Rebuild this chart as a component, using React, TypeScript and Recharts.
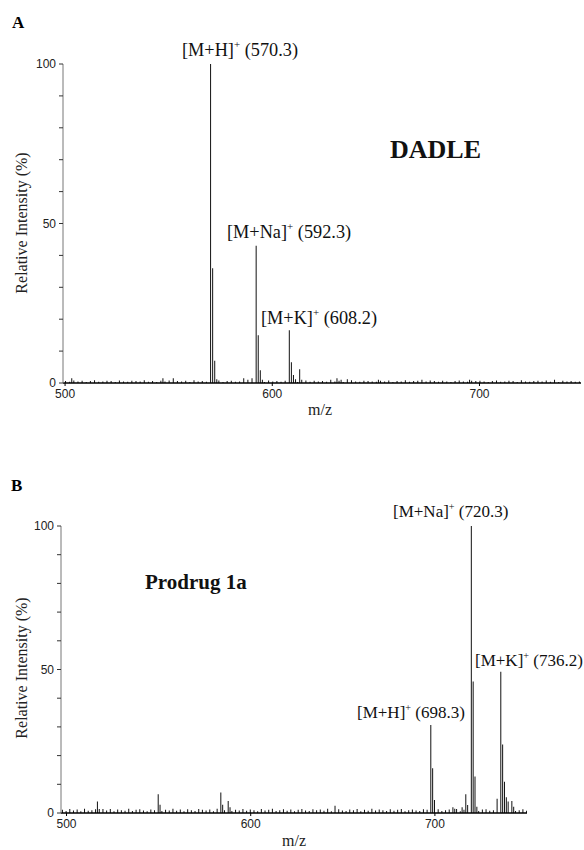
import React from "react";
import { BarChart, Bar, XAxis, YAxis } from "recharts";

// axes
const X_TICKS = [500, 600, 700];
const Y_TICKS = [0, 10, 20, 30, 40, 50, 60, 70, 80, 90, 100];
const Y_LABELED = [0, 50, 100];
const NOISE_STEP = 2;

// Panel A — DADLE peaks (m/z, relative intensity %)
const DADLE_MZ = [503, 547, 552, 570, 571, 572, 573, 586, 588, 590, 592, 593, 594, 595, 608, 609, 610, 611, 613, 614, 628, 631, 633, 636, 651, 672, 695, 736];
const DADLE_INT = [1.5, 1.5, 1.5, 100, 36, 7, 1.2, 1.5, 1, 1.5, 43, 15, 4, 1, 16.5, 6.5, 2.5, 1.2, 4.3, 1, 1, 1.5, 1, 1.2, 1, 1, 1, 1];
const DADLE_NOISE_START = 500;
const DADLE_NOISE = [
  0.6, 0.4, 0.8, 0.5, 0.7, 0.3, 0.6, 0.9, 0.4, 0.5, 0.7, 0.6, 0.3, 0.8, 0.5, 0.4, 0.7, 0.6, 0.5, 0.9, 0.4, 0.6, 0.3, 0.7, 0.5,
  0.8, 0.4, 0.6, 0.5, 0.7, 0.3, 0.9, 0.5, 0.6, 0.4, 0.7, 0.5, 0.8, 0.3, 0.6, 0.7, 0.4, 0.5, 0.9, 0.6, 0.4, 0.7, 0.5, 0.3, 0.8,
  0.5, 0.6, 0.4, 0.7, 0.9, 0.5, 0.3, 0.6, 0.8, 0.4, 0.7, 0.5, 0.6, 0.4, 0.8, 0.5, 0.7, 0.3, 0.6, 0.9, 0.5, 0.4, 0.7, 0.6, 0.5,
  0.4, 0.7, 0.5, 0.8, 0.3, 0.6, 0.5, 0.9, 0.4, 0.6, 0.7, 0.3, 0.5, 0.8, 0.6, 0.4, 0.7, 0.5, 0.3, 0.6, 0.8, 0.5, 0.4, 0.7, 0.6,
  0.7, 0.5, 0.3, 0.6, 0.8, 0.4, 0.5, 0.7, 0.6, 0.3, 0.9, 0.5, 0.4, 0.6, 0.7, 0.5, 0.8, 0.4, 0.6, 0.3, 0.7, 0.5, 0.6, 0.4, 0.5,
];

// Panel B — Prodrug 1a peaks
const PRODRUG_MZ = [517, 518, 520, 550, 551, 584, 585, 588, 589, 646, 698, 699, 700, 710, 711, 715, 717, 718, 720, 721, 722, 723, 734, 736, 737, 738, 739, 740, 742, 743];
const PRODRUG_INT = [4, 1.4, 1.4, 6.5, 2.9, 7.1, 2.9, 4.2, 2, 2.5, 30.7, 15.6, 4.5, 2, 1.5, 2, 6.5, 2.8, 100, 45.8, 12.7, 2.2, 5, 49.2, 23.9, 10.9, 5.5, 4, 4.2, 2.2];
const PRODRUG_NOISE_START = 498;
const PRODRUG_NOISE = [
  1.1, 0.7, 1.4, 0.9, 1.2, 0.6, 1.5, 0.8, 1.0, 1.3, 0.7, 1.1, 0.9, 1.4, 0.6, 1.2, 1.0, 0.8, 1.5, 0.7, 1.1, 1.3, 0.9, 0.6, 1.2,
  1.0, 1.4, 0.7, 1.1, 0.9, 1.5, 0.8, 1.2, 0.6, 1.3, 1.0, 0.7, 1.4, 1.1, 0.9, 1.2, 0.6, 1.5, 0.8, 1.0, 1.3, 0.7, 1.1, 0.9, 1.4,
  0.8, 1.2, 1.0, 0.6, 1.4, 0.9, 1.1, 1.5, 0.7, 1.0, 1.3, 0.8, 1.2, 0.6, 1.1, 1.4, 0.9, 0.7, 1.3, 1.0, 1.2, 0.8, 1.5, 0.6, 1.1,
  1.3, 0.9, 0.7, 1.2, 1.0, 1.4, 0.6, 1.1, 0.8, 1.5, 0.9, 1.2, 1.0, 0.7, 1.3, 0.8, 1.1, 1.4, 0.6, 1.0, 1.2, 0.9, 0.7, 1.3, 1.1,
  0.9, 1.1, 1.3, 0.7, 1.0, 1.2, 0.8, 1.4, 0.6, 1.1, 0.9, 1.5, 1.0, 0.7, 1.2, 1.3, 0.8, 1.0, 0.6, 1.4, 1.1, 0.9, 1.2, 0.7, 1.0,
  1.3, 0.8,
];

const SERIF = "'Liberation Serif', 'Times New Roman', serif";
const SANS = "'Liberation Sans', Arial, sans-serif";

function buildSpectrum(mz: number[], intensity: number[], noiseStart: number, noise: number[]) {
  const byMz = new Map<number, number>();
  noise.forEach((v, i) => byMz.set(noiseStart + i * NOISE_STEP, v));
  mz.forEach((m, i) => byMz.set(m, Math.max(byMz.get(m) ?? 0, intensity[i])));
  return [...byMz.entries()]
    .sort((a, b) => a[0] - b[0])
    .map(([m, v]) => ({ mz: m, intensity: v }));
}

const dadleData = buildSpectrum(DADLE_MZ, DADLE_INT, DADLE_NOISE_START, DADLE_NOISE);
const prodrugData = buildSpectrum(PRODRUG_MZ, PRODRUG_INT, PRODRUG_NOISE_START, PRODRUG_NOISE);

const YTick = (props: any) => {
  const { x, y, payload } = props;
  if (!Y_LABELED.includes(payload.value)) return <g />;
  return (
    <text x={x} y={y} textAnchor="end" dominantBaseline="central" fontFamily={SANS} fontSize={12} fill="#222">
      {payload.value}
    </text>
  );
};

const XTick = (props: any) => {
  const { x, y, payload } = props;
  return (
    <text x={x} y={y} dy="0.71em" textAnchor="middle" fontFamily={SANS} fontSize={12} fill="#222">
      {payload.value}
    </text>
  );
};

function Spectrum({ data, top, height, margin, domain }: any) {
  return (
    <div style={{ position: "absolute", left: 0, top }}>
      <BarChart width={584} height={height} data={data} margin={margin} barGap={0}>
        <XAxis
          dataKey="mz"
          type="number"
          domain={domain}
          ticks={X_TICKS}
          allowDataOverflow
          height={20}
          tick={<XTick />}
          tickSize={3}
          tickMargin={3}
          axisLine={{ stroke: "#000", strokeWidth: 1.6 }}
          tickLine={{ stroke: "#000" }}
        />
        <YAxis
          type="number"
          domain={[0, 100]}
          ticks={Y_TICKS}
          width={40}
          tick={<YTick />}
          tickSize={4}
          tickMargin={3}
          interval={0}
          axisLine={{ stroke: "#777" }}
          tickLine={{ stroke: "#333" }}
        />
        <Bar dataKey="intensity" fill="#111" barSize={1} isAnimationActive={false} />
      </BarChart>
    </div>
  );
}

const Ion = ({ x, y, size, ion, mz }: any) => (
  <text x={x} y={y} fontFamily={SERIF} fontSize={size} fill="#111">
    {ion}
    <tspan dy={-size * 0.42} fontSize={size * 0.6}>+</tspan>
    <tspan dy={size * 0.42}> ({mz})</tspan>
  </text>
);

export default function App() {
  return (
    <div style={{ position: "absolute", left: 0, top: 0, width: 584, height: 850, background: "#fff" }}>
      <Spectrum
        data={dadleData}
        top={0}
        height={430}
        margin={{ top: 64, right: 3, left: 23, bottom: 27 }}
        domain={[499, 749]}
      />
      <Spectrum
        data={prodrugData}
        top={440}
        height={410}
        margin={{ top: 86, right: 57, left: 21, bottom: 17 }}
        domain={[497, 750]}
      />
      <svg width={584} height={850} style={{ position: "absolute", left: 0, top: 0, pointerEvents: "none" }}>
        <text x={12} y={28} fontFamily={SERIF} fontWeight="bold" fontSize={17}>A</text>
        <text x={11} y={491} fontFamily={SERIF} fontWeight="bold" fontSize={17}>B</text>

        <text transform="translate(27,223) rotate(-90)" textAnchor="middle" fontFamily={SERIF} fontSize={16} fill="#222">
          Relative Intensity (%)
        </text>
        <text transform="translate(27,668) rotate(-90)" textAnchor="middle" fontFamily={SERIF} fontSize={16} fill="#222">
          Relative Intensity (%)
        </text>
        <text x={320} y={415} textAnchor="middle" fontFamily={SERIF} fontSize={16} fill="#222">m/z</text>
        <text x={294} y={846} textAnchor="middle" fontFamily={SERIF} fontSize={16} fill="#222">m/z</text>

        <text x={390} y={158} fontFamily={SERIF} fontWeight="bold" fontSize={26} fill="#111">DADLE</text>
        <text x={145} y={589} fontFamily={SERIF} fontWeight="bold" fontSize={21} fill="#111">Prodrug 1a</text>

        <Ion x={182} y={56} size={18.3} ion="[M+H]" mz="570.3" />
        <Ion x={227} y={238} size={18.3} ion="[M+Na]" mz="592.3" />
        <Ion x={261} y={324} size={18.3} ion="[M+K]" mz="608.2" />

        <Ion x={393} y={517} size={17} ion="[M+Na]" mz="720.3" />
        <Ion x={475} y={666} size={17} ion="[M+K]" mz="736.2" />
        <Ion x={357} y={718} size={17} ion="[M+H]" mz="698.3" />
      </svg>
    </div>
  );
}
